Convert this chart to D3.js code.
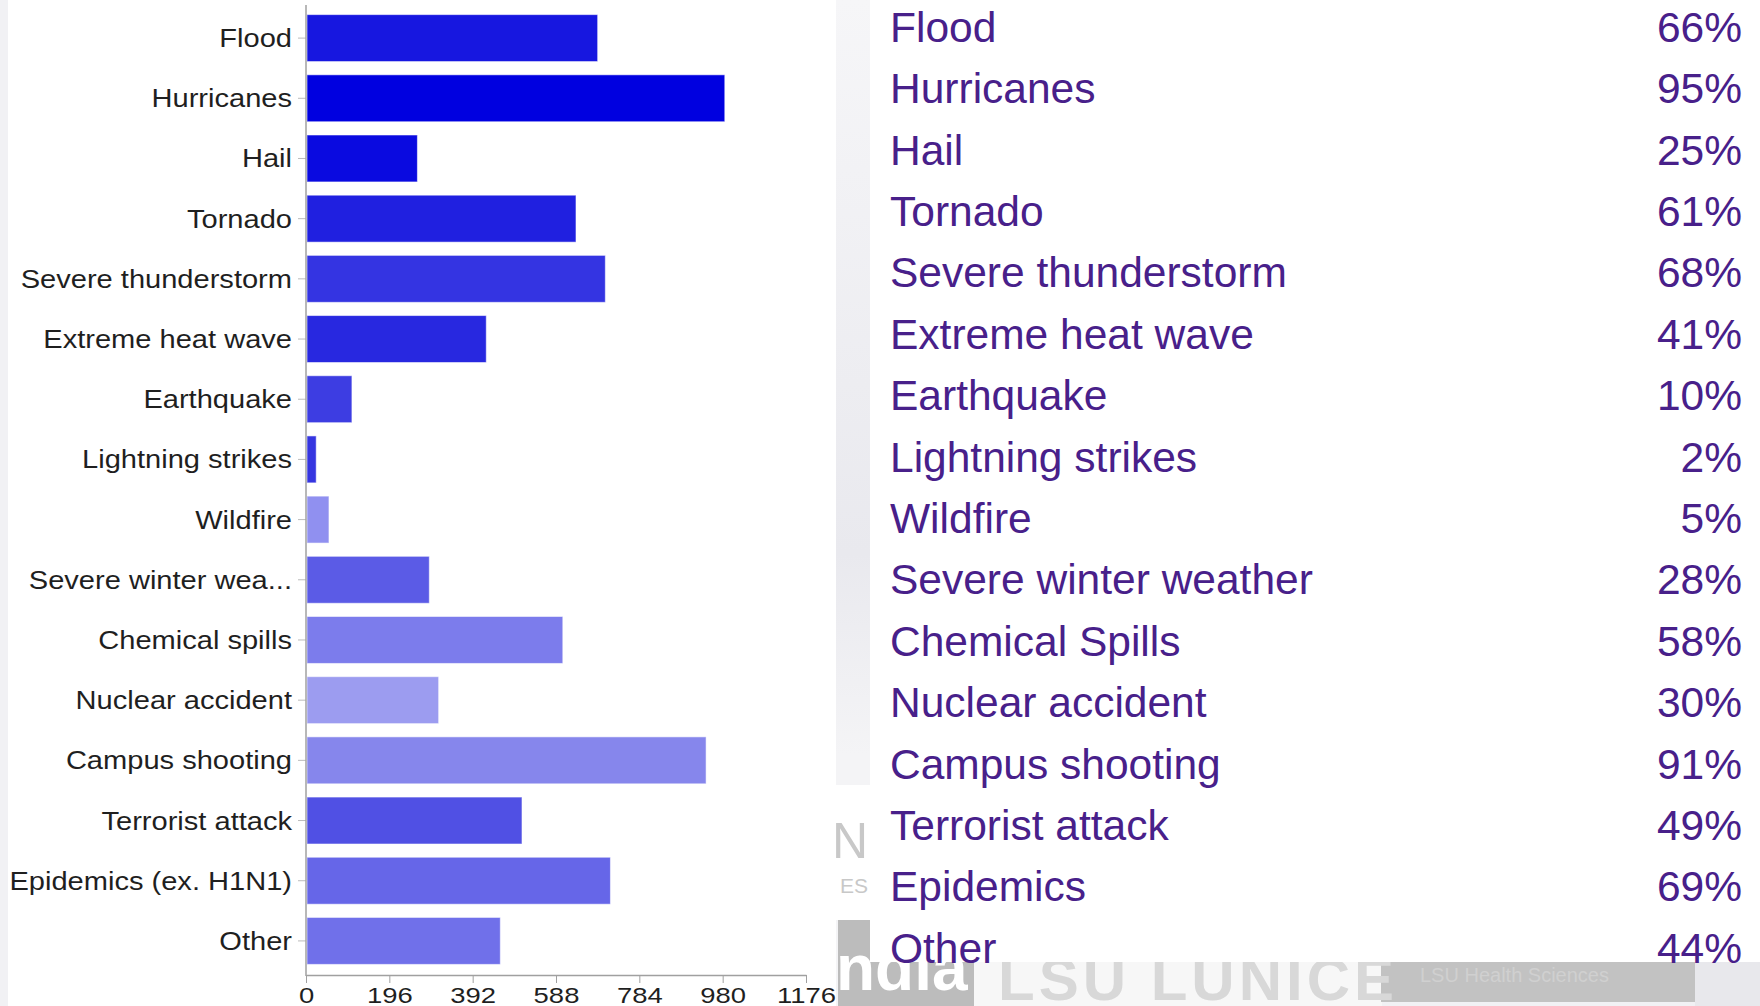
<!DOCTYPE html>
<html>
<head>
<meta charset="utf-8">
<script src="https://cdn.jsdelivr.net/npm/d3@7"></script>
<style>
  html, body { margin: 0; padding: 0; background: #f2f2f4; }
  svg { display: block; font-family: "Liberation Sans", Arial, sans-serif; }
</style>
</head>
<body>
<svg id="chart" width="1760" height="1006"></svg>
<script>
// Hazards asked about in the survey (bar chart, left)
const hazards = [
  "Flood", "Hurricanes", "Hail", "Tornado", "Severe thunderstorm",
  "Extreme heat wave", "Earthquake", "Lightning strikes", "Wildfire",
  "Severe winter wea...", "Chemical spills", "Nuclear accident",
  "Campus shooting", "Terrorist attack", "Epidemics (ex. H1N1)", "Other"
];
// Number of responses per hazard
const responses = [686, 985, 262, 635, 704, 424, 108, 24, 54, 290, 604, 312, 941, 508, 716, 457];
// Bottom axis tick values
const xTicks = [0, 196, 392, 588, 784, 980, 1176];

// Summary table (right)
const tableLabels = [
  "Flood", "Hurricanes", "Hail", "Tornado", "Severe thunderstorm",
  "Extreme heat wave", "Earthquake", "Lightning strikes", "Wildfire",
  "Severe winter weather", "Chemical Spills", "Nuclear accident",
  "Campus shooting", "Terrorist attack", "Epidemics", "Other"
];
const tablePercents = ["66%", "95%", "25%", "61%", "68%", "41%", "10%", "2%", "5%", "28%", "58%", "30%", "91%", "49%", "69%", "44%"];

// Bar fills, one per hazard
const barColors = [
  "#1717e0", "#0000e0", "#0a0ae0", "#2020e0", "#3434e2", "#2828e0", "#3d3de2", "#3535e0",
  "#9090f0", "#5b5be6", "#7c7cec", "#9c9cf0", "#8686ec", "#5050e4", "#6666e8", "#7070ea"
];

const svg = d3.select("#chart");

// ---- slide background pieces ----
const bg = svg.append("g");
bg.append("rect").attr("x", 0).attr("y", 0).attr("width", 1760).attr("height", 1006).attr("fill", "#f1f1f4");
// strip between panels
const grad = svg.append("defs").append("linearGradient").attr("id", "strip").attr("x1", 0).attr("y1", 0).attr("x2", 0).attr("y2", 1);
grad.append("stop").attr("offset", "0%").attr("stop-color", "#f6f6f8");
grad.append("stop").attr("offset", "55%").attr("stop-color", "#e9e9ee");
grad.append("stop").attr("offset", "75%").attr("stop-color", "#f4f4f6");
bg.append("rect").attr("x", 836).attr("y", 0).attr("width", 40).attr("height", 1006).attr("fill", "url(#strip)");
bg.append("rect").attr("x", 836).attr("y", 785).attr("width", 40).attr("height", 135).attr("fill", "#ffffff");
bg.append("text").attr("x", 868).attr("y", 858).attr("font-size", 50).attr("fill", "#c8c8c8")
  .attr("text-anchor", "end").text("N");
bg.append("text").attr("x", 868).attr("y", 893).attr("font-size", 21).attr("fill", "#c8c8c8")
  .attr("text-anchor", "end").text("ES");
// logo band along the bottom
bg.append("rect").attr("x", 838).attr("y", 920).attr("width", 136).attr("height", 86).attr("fill", "#bcbcbc");
bg.append("rect").attr("x", 974).attr("y", 962).attr("width", 408).attr("height", 44).attr("fill", "#f7f7f7");
bg.append("rect").attr("x", 1381).attr("y", 962).attr("width", 314).attr("height", 40).attr("fill", "#c2c2c2");
bg.append("rect").attr("x", 1695).attr("y", 962).attr("width", 65).attr("height", 44).attr("fill", "#e8e8ec");
bg.append("text").attr("x", 836).attr("y", 990).attr("font-size", 64).attr("font-weight", "bold")
  .attr("fill", "#ffffff").text("ndia");
bg.append("text").attr("x", 998).attr("y", 1000).attr("font-size", 60).attr("font-weight", "bold")
  .attr("fill", "#d8d8d8").attr("letter-spacing", 4).text("LSU LUNICE");
bg.append("text").attr("x", 1420).attr("y", 982).attr("font-size", 20)
  .attr("fill", "#d0d0d0").text("LSU Health Sciences");

// ---- panels ----
svg.append("rect").attr("x", 8).attr("y", 0).attr("width", 828).attr("height", 1006).attr("fill", "#ffffff");
svg.append("rect").attr("x", 870).attr("y", 0).attr("width", 890).attr("height", 962).attr("fill", "#ffffff");

// ---- bar chart ----
const x = d3.scaleLinear().domain([0, 1176]).range([306, 806]);
const y = d3.scaleBand().domain(hazards).range([8, 971]).paddingInner(0.22).paddingOuter(0.11);

const chart = svg.append("g");

chart.selectAll("rect.bar")
  .data(hazards)
  .join("rect")
  .attr("class", "bar")
  .attr("x", x(0) + 1)
  .attr("y", d => y(d))
  .attr("width", (d, i) => x(responses[i]) - x(0) - 1)
  .attr("height", y.bandwidth())
  .attr("fill", (d, i) => barColors[i])
  .attr("stroke", "rgba(255,255,255,0.55)")
  .attr("stroke-width", 1);

// left axis with category labels
const yAxis = chart.append("g")
  .attr("transform", `translate(${x(0)},0)`)
  .call(d3.axisLeft(y).tickSize(8).tickPadding(6).tickSizeOuter(0));
yAxis.select(".domain").remove();
yAxis.selectAll(".tick line").attr("stroke", "#bbbbbb");
yAxis.selectAll(".tick text").remove();
yAxis.selectAll(".tick").append("g")
  .attr("transform", "translate(-14,9) scale(1.14,1)")
  .append("text")
  .attr("text-anchor", "end")
  .attr("font-size", 25.5)
  .attr("fill", "#1f1f1f")
  .text(d => d);

chart.append("line")
  .attr("x1", x(0)).attr("x2", x(0)).attr("y1", 5).attr("y2", 976)
  .attr("stroke", "#a0a0a0").attr("stroke-width", 1.5);

// bottom axis
const xAxis = chart.append("g")
  .attr("transform", "translate(0,975)")
  .call(d3.axisBottom(x).tickValues(xTicks).tickSize(8).tickSizeOuter(0).tickFormat(d3.format("d")));
xAxis.select(".domain").attr("stroke", "#a0a0a0").attr("stroke-width", 1.5);
xAxis.selectAll(".tick line").attr("stroke", "#a0a0a0");
xAxis.selectAll(".tick text").remove();
xAxis.selectAll(".tick").append("g")
  .attr("transform", "translate(0,28) scale(1.22,1)")
  .append("text")
  .attr("text-anchor", "middle")
  .attr("font-size", 22.5)
  .attr("fill", "#1f1f1f")
  .text(d => d);

// ---- summary table ----
const row = d3.scalePoint().domain(tableLabels).range([41.7, 962.7]);
const table = svg.append("g")
  .attr("font-size", 42.5)
  .attr("fill", "#48208a");

table.selectAll("text.label")
  .data(tableLabels)
  .join("text")
  .attr("class", "label")
  .attr("x", 890)
  .attr("y", d => row(d))
  .text(d => d);

table.selectAll("text.pct")
  .data(tableLabels)
  .join("text")
  .attr("class", "pct")
  .attr("x", 1742)
  .attr("y", d => row(d))
  .attr("text-anchor", "end")
  .text((d, i) => tablePercents[i]);
</script>
</body>
</html>
